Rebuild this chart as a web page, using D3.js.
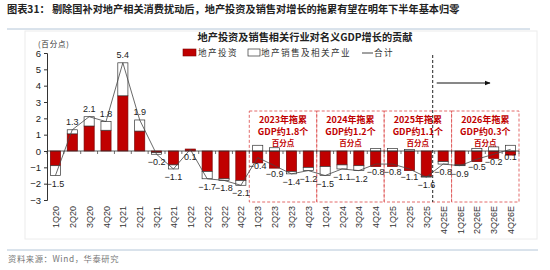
<!DOCTYPE html>
<html>
<head>
<meta charset="utf-8">
<script src="https://cdn.jsdelivr.net/npm/d3@7"></script>
<style>
  body { margin: 0; background: #fff; }
  text { font-family: "Liberation Sans", Arial, "Noto Sans CJK SC", sans-serif; }
  .cjk { font-family: "Noto Sans CJK SC", sans-serif; }
</style>
</head>
<body>
<div id="chart"></div>
<script>
// quarters on the x axis
var quarters = ["1Q20","2Q20","3Q20","4Q20","1Q21","2Q21","3Q21","4Q21",
  "1Q22","2Q22","3Q22","4Q22","1Q23","2Q23","3Q23","4Q23",
  "1Q24","2Q24","3Q24","4Q24","1Q25","2Q25","3Q25","4Q25E",
  "1Q26E","2Q26E","3Q26E","4Q26E"];

// 地产投资 (red bars)
var investment = [-0.9, 1.05, 1.53, 1.27, 3.38, 1.22, -0.1, -0.85,
  0.12, -1.25, -1.7, -1.8, -0.73, -1.05, -1.25, -1.0,
  -0.95, -0.85, -0.9, -0.95, -0.95, -1.2, -1.55, -0.65,
  -0.85, -0.65, -0.45, -0.25];

// 地产销售及相关产业 (white bars)
var salesRelated = [-0.6, 0.25, 0.57, 0.53, 2.02, 0.68, -0.1, -0.25,
  0.0, -0.45, -0.1, -0.3, 0.35, 0.2, -0.15, -0.2,
  -0.55, -0.25, -0.3, 0.15, 0.15, 0.1, -0.05, -0.15,
  -0.05, 0.15, 0.25, 0.35];

// 合计 (line + labels)
var total = [-1.5, 1.3, 2.1, 1.8, 5.4, 1.9, -0.2, -1.1,
  0.1, -1.7, -1.8, -2.1, -0.4, -0.9, -1.4, -1.2,
  -1.5, -1.1, -1.2, -0.8, -0.8, -1.1, -1.6, -0.8,
  -0.9, -0.5, -0.2, 0.1];

var yTicks = [-3, -2, -1, 0, 1, 2, 3, 4, 5, 6];

// yearly drag boxes
var dragYears = ["2023", "2024", "2025", "2026"];
var dragValues = ["1.8", "1.2", "1.1", "0.3"];

var width = 550, height = 270;
var red = "#c00000";

var svg = d3.select("#chart").append("svg")
  .attr("width", width)
  .attr("height", height);

// page header
svg.append("text")
  .attr("class", "cjk")
  .attr("x", 7).attr("y", 13)
  .attr("font-size", "10.2px")
  .attr("font-weight", "bold")
  .attr("fill", "#222")
  .text("图表31：  剔除国补对地产相关消费扰动后，地产投资及销售对增长的拖累有望在明年下半年基本归零");

svg.append("line")
  .attr("x1", 7).attr("x2", 530)
  .attr("y1", 29).attr("y2", 29)
  .attr("stroke", "#b4c6d8").attr("stroke-width", 1);

// light panel frame
svg.append("rect")
  .attr("x", 25).attr("y", 31)
  .attr("width", 512).attr("height", 208)
  .attr("fill", "none")
  .attr("stroke", "#ececec");

svg.append("line")
  .attr("x1", 7).attr("x2", 538)
  .attr("y1", 250).attr("y2", 250)
  .attr("stroke", "#b4c6d8").attr("stroke-width", 1);

svg.append("text")
  .attr("class", "cjk")
  .attr("x", 8).attr("y", 262)
  .attr("font-size", "8.3px")
  .attr("letter-spacing", "0.6px")
  .attr("fill", "#777")
  .text("资料来源：Wind，华泰研究");

// scales
var x = d3.scaleBand()
  .domain(quarters)
  .range([47, 519])
  .paddingInner(0.4)
  .paddingOuter(0.2);

var y = d3.scaleLinear()
  .domain([-3, 6])
  .range([200, 53]);

var step = x.step();
var x0 = x.range()[0];
function boundary(i) { return x0 + step * i; }

// chart title
svg.append("text")
  .attr("class", "cjk")
  .attr("x", 305).attr("y", 41)
  .attr("text-anchor", "middle")
  .attr("font-size", "10.2px")
  .attr("font-weight", "bold")
  .attr("fill", "#222")
  .text("地产投资及销售相关行业对名义GDP增长的贡献");

// legend
var legend = svg.append("g").attr("transform", "translate(0,53)");
legend.append("rect").attr("x", 183).attr("y", -4).attr("width", 13).attr("height", 7)
  .attr("fill", red).attr("stroke", "#7a0000").attr("stroke-width", 0.6);
legend.append("text").attr("class", "cjk").attr("x", 198).attr("y", 3)
  .attr("font-size", "8.6px").attr("letter-spacing", "1.4px")
  .attr("fill", "#333").text("地产投资");
legend.append("rect").attr("x", 248).attr("y", -4).attr("width", 12).attr("height", 7)
  .attr("fill", "#fff").attr("stroke", "#333").attr("stroke-width", 0.7);
legend.append("text").attr("class", "cjk").attr("x", 261).attr("y", 3)
  .attr("font-size", "8.6px").attr("letter-spacing", "1.4px")
  .attr("fill", "#333").text("地产销售及相关产业");
legend.append("line").attr("x1", 362).attr("x2", 373).attr("y1", 0).attr("y2", 0)
  .attr("stroke", "#444").attr("stroke-width", 1);
legend.append("text").attr("class", "cjk").attr("x", 374).attr("y", 3)
  .attr("font-size", "8.6px").attr("letter-spacing", "1.4px")
  .attr("fill", "#333").text("合计");

// red dashed year boxes
var boxes = svg.append("g");
dragYears.forEach(function(yr, k) {
  var bx1 = boundary(12 + 4 * k), bx2 = boundary(16 + 4 * k);
  boxes.append("rect")
    .attr("x", bx1).attr("y", 111)
    .attr("width", bx2 - bx1).attr("height", 91)
    .attr("fill", "none")
    .attr("stroke", "#e05a5a")
    .attr("stroke-width", 0.9)
    .attr("stroke-dasharray", "3,2");
  var cx = (bx1 + bx2) / 2;
  var t = boxes.append("text")
    .attr("class", "cjk")
    .attr("text-anchor", "middle")
    .attr("font-size", "9px")
    .attr("font-weight", "bold")
    .attr("fill", "#c00000");
  t.append("tspan").attr("x", cx).attr("y", 123).text(yr + "年拖累");
  t.append("tspan").attr("x", cx).attr("y", 135).text("GDP约" + dragValues[k] + "个");
  t.append("tspan").attr("x", cx).attr("y", 146).attr("font-size", "7.5px").text("百分点");
});

// stacked bars (diverging)
var rows = quarters.map(function(q, i) {
  return {q: q, investment: investment[i], sales: salesRelated[i]};
});
var stack = d3.stack()
  .keys(["investment", "sales"])
  .offset(d3.stackOffsetDiverging);
var series = stack(rows);

var fills = {investment: red, sales: "#fff"};
var strokes = {investment: "#7a0000", sales: "#333"};

svg.selectAll("g.series")
  .data(series)
  .enter()
  .append("g")
    .attr("class", "series")
    .attr("fill", function(d) { return fills[d.key]; })
    .attr("stroke", function(d) { return strokes[d.key]; })
    .attr("stroke-width", 0.7)
  .selectAll("rect")
  .data(function(d) { return d; })
  .enter()
  .append("rect")
    .attr("x", function(d) { return x(d.data.q); })
    .attr("width", x.bandwidth())
    .attr("y", function(d) { return y(Math.max(d[0], d[1])); })
    .attr("height", function(d) { return Math.abs(y(d[0]) - y(d[1])); });

// y axis
var yAxis = d3.axisLeft(y)
  .tickValues(yTicks)
  .tickSize(3)
  .tickFormat(d3.format("d"));
var gy = svg.append("g")
  .attr("transform", "translate(47,0)")
  .call(yAxis);
gy.select(".domain").attr("stroke", "#333");
gy.selectAll(".tick line").attr("stroke", "#333");
gy.selectAll(".tick text")
  .attr("font-size", "9.5px")
  .attr("fill", "#222")
  .attr("x", -6);

svg.append("text")
  .attr("class", "cjk")
  .attr("x", 38).attr("y", 46.5)
  .attr("font-size", "7.5px")
  .attr("letter-spacing", "0.8px")
  .attr("fill", "#333")
  .text("(百分点)");

// zero line with ticks at category edges
svg.append("line")
  .attr("x1", 47).attr("x2", 519)
  .attr("y1", y(0)).attr("y2", y(0))
  .attr("stroke", "#333").attr("stroke-width", 0.8);
svg.selectAll("line.xtick")
  .data(d3.range(quarters.length + 1))
  .enter()
  .append("line")
    .attr("class", "xtick")
    .attr("x1", function(i) { return boundary(i); })
    .attr("x2", function(i) { return boundary(i); })
    .attr("y1", y(0)).attr("y2", y(0) + 3)
    .attr("stroke", "#333").attr("stroke-width", 0.7);

// category labels (rotated, at low position)
svg.selectAll("text.xlab")
  .data(quarters)
  .enter()
  .append("text")
    .attr("class", "xlab")
    .attr("transform", function(d) {
      return "translate(" + (x(d) + x.bandwidth() / 2 + 3.5) + ",206) rotate(-90)";
    })
    .attr("text-anchor", "end")
    .attr("font-size", "9px")
    .attr("fill", "#333")
    .text(function(d) { return d; });

// total line
var line = d3.line()
  .x(function(d, i) { return x(quarters[i]) + x.bandwidth() / 2; })
  .y(function(d) { return y(d); });

svg.append("path")
  .datum(total)
  .attr("d", line)
  .attr("fill", "none")
  .attr("stroke", "#444")
  .attr("stroke-width", 0.8);

svg.selectAll("text.vlab")
  .data(total)
  .enter()
  .append("text")
    .attr("class", "vlab")
    .attr("x", function(d, i) { return x(quarters[i]) + x.bandwidth() / 2; })
    .attr("y", function(d) { return d > 0.5 ? y(d) - 5 : y(d) + 11; })
    .attr("text-anchor", "middle")
    .attr("font-size", "9px")
    .attr("fill", "#222")
    .text(function(d) { return d3.format(".1f")(d); });

// forecast divider and arrow
var divX = boundary(23) - 2;
svg.append("line")
  .attr("x1", divX).attr("x2", divX)
  .attr("y1", 55).attr("y2", 202)
  .attr("stroke", "#222")
  .attr("stroke-width", 1)
  .attr("stroke-dasharray", "3,2");

svg.append("defs").append("marker")
  .attr("id", "arrow")
  .attr("viewBox", "0 0 10 10")
  .attr("refX", 9).attr("refY", 5)
  .attr("markerWidth", 6).attr("markerHeight", 6)
  .attr("orient", "auto")
  .append("path")
  .attr("d", "M0,1L10,5L0,9Z")
  .attr("fill", "#111");

svg.append("line")
  .attr("x1", divX + 4).attr("x2", 490)
  .attr("y1", 83).attr("y2", 83)
  .attr("stroke", "#111")
  .attr("stroke-width", 1)
  .attr("marker-end", "url(#arrow)");
</script>
</body>
</html>
